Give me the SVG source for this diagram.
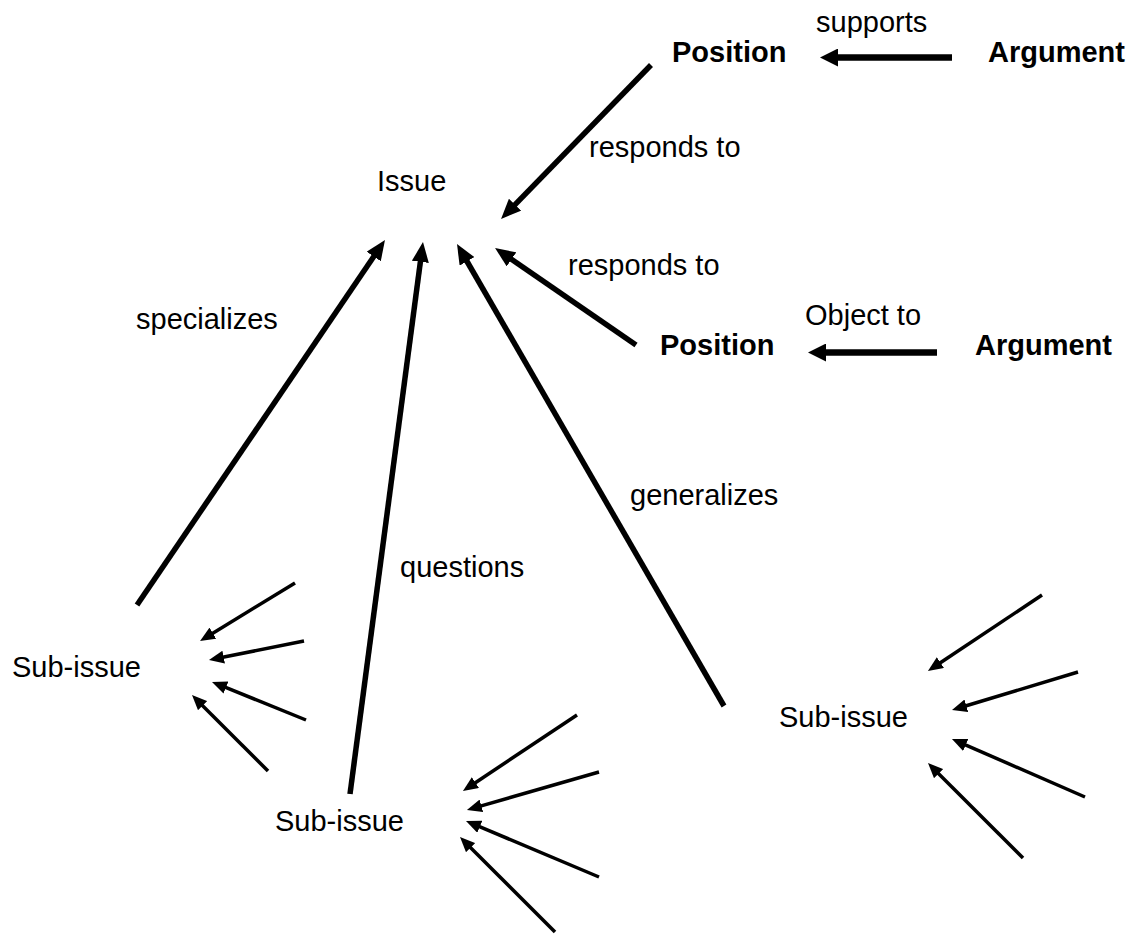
<svg xmlns="http://www.w3.org/2000/svg" width="1135" height="934" viewBox="0 0 1135 934">
  <style>
    text { font-family: "Liberation Sans", Arial, sans-serif; font-size: 29px; fill: #000; }
    .bold { font-weight: bold; }
    .thick { stroke: #000; stroke-width: 5.5; fill: none; marker-end: url(#headL); }
    .wide { stroke: #000; stroke-width: 6.5; fill: none; marker-end: url(#headW); }
    .thin { stroke: #000; stroke-width: 3.5; fill: none; marker-end: url(#headS); }
  </style>
  <defs>
    <marker id="headL" markerUnits="userSpaceOnUse" markerWidth="20" markerHeight="17" refX="1" refY="8.5" orient="auto">
      <path d="M0,0 L20,8.5 L0,17 Z" fill="#000"/>
    </marker>
    <marker id="headW" markerUnits="userSpaceOnUse" markerWidth="18" markerHeight="18" refX="1" refY="9" orient="auto">
      <path d="M0,0 L18,9 L0,18 Z" fill="#000"/>
    </marker>
    <marker id="headS" markerUnits="userSpaceOnUse" markerWidth="15" markerHeight="13" refX="1" refY="6.5" orient="auto">
      <path d="M0,0 L15,6.5 L0,13 Z" fill="#000"/>
    </marker>
  </defs>
  <rect width="1135" height="934" fill="#fff"/>

  <g id="connectors">
    <!-- positions respond to the issue -->
    <line class="thick" x1="651" y1="65" x2="514.3" y2="205.4"/>
    <line class="thick" x1="636" y1="345" x2="510.7" y2="258.8"/>
    <!-- sub-issues relate to the issue -->
    <line class="thick" x1="137" y1="605" x2="374.3" y2="255.7"/>
    <line class="thick" x1="350" y1="794" x2="420.5" y2="260.8"/>
    <line class="thick" x1="724" y1="706" x2="466.5" y2="260.5"/>
    <!-- arguments -->
    <line class="wide" x1="952" y1="57.5" x2="837" y2="57.5"/>
    <line class="wide" x1="937" y1="352.5" x2="825" y2="352.5"/>
    <!-- left sub-issue fan -->
    <line class="thin" x1="295" y1="583" x2="212" y2="633.7"/>
    <line class="thin" x1="304" y1="641" x2="222.7" y2="657.3"/>
    <line class="thin" x1="306" y1="720" x2="225" y2="687.2"/>
    <line class="thin" x1="268" y1="771" x2="201.9" y2="704.9"/>
    <!-- middle sub-issue fan -->
    <line class="thin" x1="577" y1="715" x2="474.6" y2="783.2"/>
    <line class="thin" x1="599" y1="772" x2="480.4" y2="806.1"/>
    <line class="thin" x1="599" y1="877" x2="478.9" y2="826.4"/>
    <line class="thin" x1="555" y1="932" x2="469.9" y2="846.9"/>
    <!-- right sub-issue fan -->
    <line class="thin" x1="1042" y1="595" x2="939.6" y2="663.2"/>
    <line class="thin" x1="1078" y1="672" x2="965.4" y2="706"/>
    <line class="thin" x1="1085" y1="797" x2="964.8" y2="744.6"/>
    <line class="thin" x1="1023" y1="858" x2="937.9" y2="772.9"/>
  </g>

  <g id="edge-labels">
    <text x="816" y="32">supports</text>
    <text x="589" y="157">responds to</text>
    <text x="568" y="275">responds to</text>
    <text x="805" y="325">Object to</text>
    <text x="136" y="329">specializes</text>
    <text x="630" y="505">generalizes</text>
    <text x="400" y="577">questions</text>
  </g>

  <g id="issue"><text x="377" y="191">Issue</text></g>
  <g id="position-1"><text class="bold" x="672" y="62">Position</text></g>
  <g id="argument-1"><text class="bold" x="988" y="62">Argument</text></g>
  <g id="position-2"><text class="bold" x="660" y="355">Position</text></g>
  <g id="argument-2"><text class="bold" x="975" y="355">Argument</text></g>
  <g id="subissue-left"><text x="12" y="677">Sub-issue</text></g>
  <g id="subissue-middle"><text x="275" y="831">Sub-issue</text></g>
  <g id="subissue-right"><text x="779" y="727">Sub-issue</text></g>
</svg>
